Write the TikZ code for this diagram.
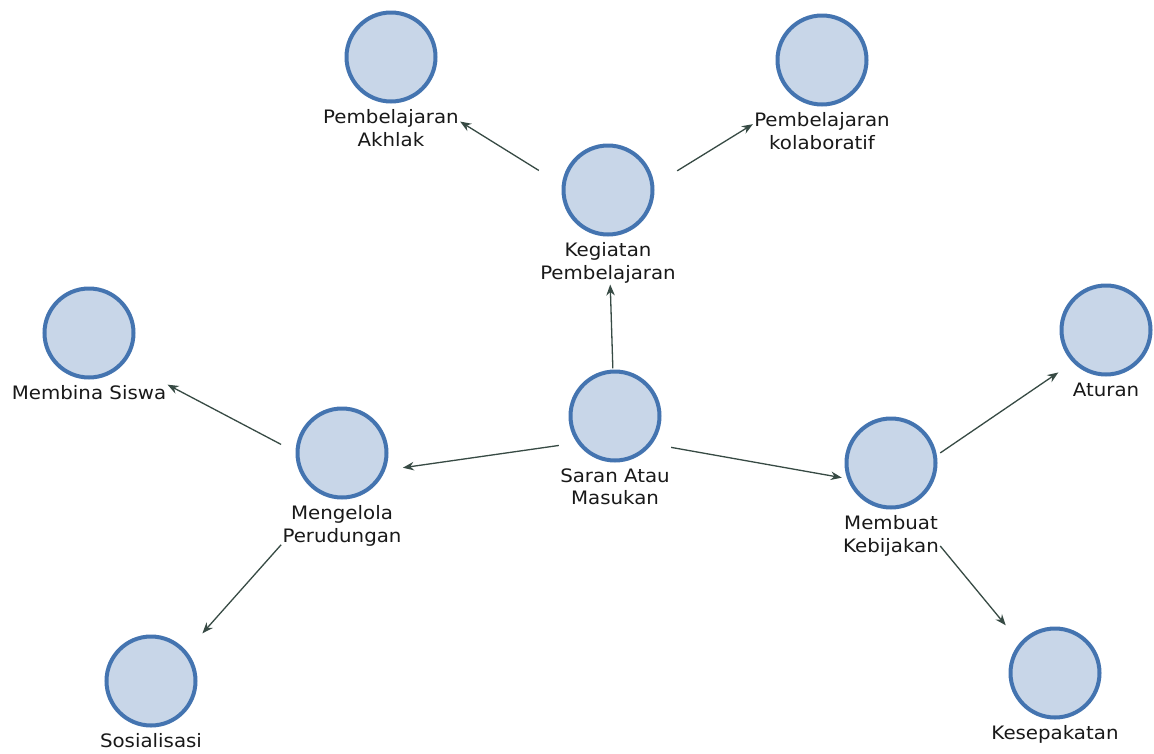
\documentclass[tikz,border=0pt]{standalone}
\usepackage{fontspec}
\setmainfont[FakeStretch=1.07]{DejaVu Sans}
\usetikzlibrary{arrows.meta,fit,backgrounds}
\definecolor{ringc}{RGB}{68,116,176}
\definecolor{fillc}{RGB}{200,214,232}
\definecolor{arrc}{RGB}{55,74,68}
\tikzset{
  circ/.style={circle,draw=ringc,fill=fillc,line width=4pt,minimum size=89pt,inner sep=0pt},
  lab/.style={anchor=north,align=center,inner sep=0pt,font=\fontsize{18.5}{22.5}\selectfont,text=black!90},
  grp/.style={inner sep=1pt,draw=none},
  conn/.style={draw=arrc,line width=1.3pt,-{Stealth[length=11pt,width=8.5pt]}},
}
\begin{document}
\begin{tikzpicture}[x=1pt,y=-1pt]
\useasboundingbox (0,0) rectangle (1154,753);
% circles
\node[circ] (ak) at (391,57) {};
\node[circ] (ko) at (822,60) {};
\node[circ] (ke) at (608,190) {};
\node[circ] (sa) at (615,416) {};
\node[circ] (mb) at (89,333) {};
\node[circ] (me) at (342,453) {};
\node[circ] (at) at (1106,330) {};
\node[circ] (mk) at (891,463) {};
\node[circ] (so) at (151,681) {};
\node[circ] (ks) at (1055,673) {};
% labels
\node[lab] (akl) at ([yshift=-6pt]ak.south) {Pembelajaran\\Akhlak};
\node[lab] (kol) at ([yshift=-6pt]ko.south) {Pembelajaran\\kolaboratif};
\node[lab] (kel) at ([yshift=-6pt]ke.south) {Kegiatan\\Pembelajaran};
\node[lab] (sal) at ([yshift=-6pt]sa.south) {Saran Atau\\Masukan};
\node[lab] (mbl) at ([yshift=-6pt]mb.south) {Membina Siswa};
\node[lab] (mel) at ([yshift=-6pt]me.south) {Mengelola\\Perudungan};
\node[lab] (atl) at ([yshift=-6pt]at.south) {Aturan};
\node[lab] (mkl) at ([yshift=-6pt]mk.south) {Membuat\\Kebijakan};
\node[lab] (sol) at ([yshift=-6pt]so.south) {Sosialisasi};
\node[lab] (ksl) at ([yshift=-6pt]ks.south) {Kesepakatan};
% groups
\node[grp,fit=(ak)(akl)] (akg) {};
\node[grp,fit=(ko)(kol)] (kog) {};
\node[grp,fit=(ke)(kel)] (keg) {};
\node[grp,fit=(sa)(sal)] (sag) {};
\node[grp,fit=(mb)(mbl)] (mbg) {};
\node[grp,fit=(me)(mel)] (meg) {};
\node[grp,fit=(at)(atl)] (atg) {};
\node[grp,fit=(mk)(mkl)] (mkg) {};
\node[grp,fit=(so)(sol)] (sog) {};
\node[grp,fit=(ks)(ksl)] (ksg) {};
\begin{scope}[on background layer]
\fill[white] (0,0) rectangle (1154,753);
\draw[conn] (sag) -- (keg);
\draw[conn] (keg) -- (akg);
\draw[conn] (keg) -- (kog);
\draw[conn] (sag) -- (meg);
\draw[conn] (meg) -- (mbg);
\draw[conn] (meg) -- (sog);
\draw[conn] (sag) -- (mkg);
\draw[conn] (mkg) -- (atg);
\draw[conn] (mkg) -- (ksg);
\end{scope}
\end{tikzpicture}
\end{document}
